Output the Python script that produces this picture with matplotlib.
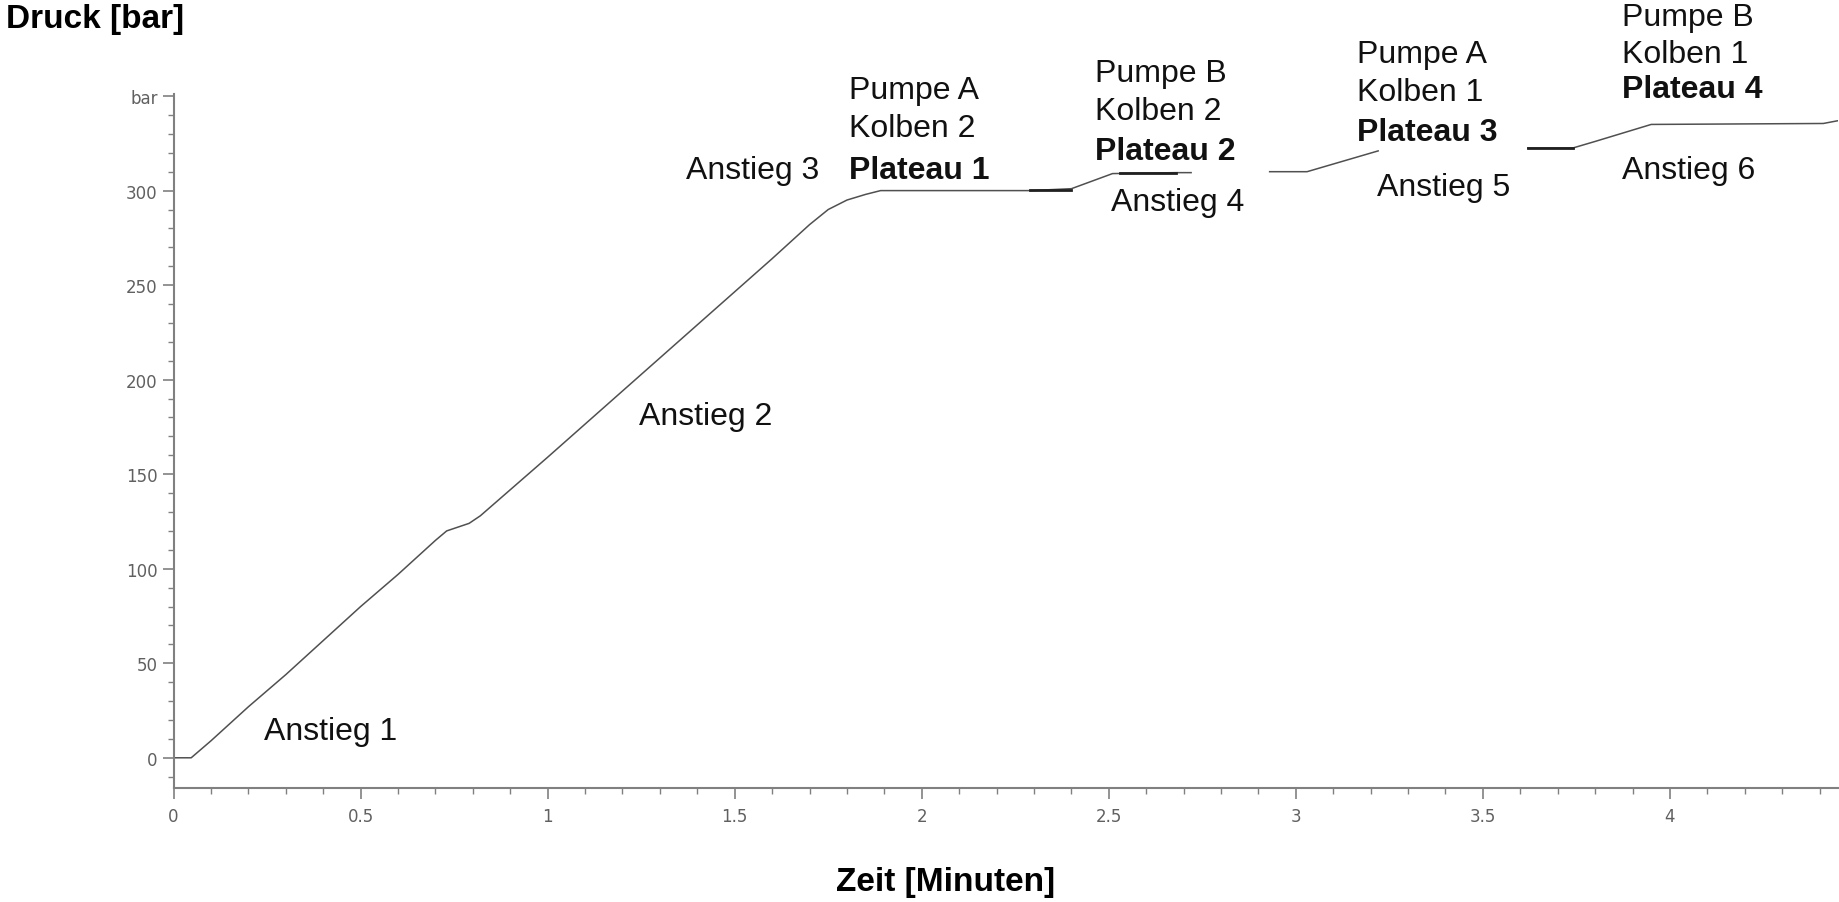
import numpy as np
import matplotlib.pyplot as plt
from matplotlib.ticker import MultipleLocator, FixedLocator

# pressure trace (minutes, bar); NaN = gap in the recording
zeit = [0, 0.047, 0.10, 0.20, 0.30, 0.40, 0.50, 0.60, 0.70, 0.73, 0.76, 0.79, 0.82,
        1.0, 1.2, 1.4, 1.6, 1.70, 1.75, 1.80, 1.85, 1.89, 2.29, 2.40, 2.51, 2.68, 2.72,
        np.nan, 2.93, 3.03, 3.22, np.nan, 3.62, 3.74, 3.80, 3.95, 4.41, 4.45]
druck = [0, 0, 9, 27, 44, 62, 80, 97, 115, 120, 122, 124, 128,
         159, 194, 229, 264, 282, 290, 295, 298, 300, 300, 301, 309, 309.5, 309.5,
         np.nan, 310, 310, 321, np.nan, 322.5, 322.5, 326, 335, 335.5, 337]

# darker plateau pieces
dunkel_zeit = [[2.29, 2.40], [2.53, 2.68], [3.62, 3.74]]
dunkel_druck = [[300.5, 300.5], [309.5, 309.5], [322.5, 322.5]]

# annotations: (x, y, text, bold)
labels = [
    (0.241, 14, "Anstieg 1", False),
    (1.245, 181, "Anstieg 2", False),
    (1.370, 311, "Anstieg 3", False),
    (1.806, 353, "Pumpe A", False),
    (1.806, 333, "Kolben 2", False),
    (1.806, 311, "Plateau 1", True),
    (2.464, 362, "Pumpe B", False),
    (2.464, 342, "Kolben 2", False),
    (2.464, 321, "Plateau 2", True),
    (2.505, 294, "Anstieg 4", False),
    (3.163, 372, "Pumpe A", False),
    (3.163, 352, "Kolben 1", False),
    (3.163, 331, "Plateau 3", True),
    (3.216, 302, "Anstieg 5", False),
    (3.871, 392, "Pumpe B", False),
    (3.871, 372, "Kolben 1", False),
    (3.871, 354, "Plateau 4", True),
    (3.871, 311, "Anstieg 6", False),
]

y_ticks = [0, 50, 100, 150, 200, 250, 300, 350]
y_ticklabels = ["0", "50", "100", "150", "200", "250", "300", "bar"]
x_ticks = [0, 0.5, 1, 1.5, 2, 2.5, 3, 3.5, 4]
x_ticklabels = ["0", "0.5", "1", "1.5", "2", "2.5", "3", "3.5", "4"]

plt.rcParams['font.family'] = ['Liberation Sans', 'DejaVu Sans']

fig = plt.figure(figsize=(18.39, 9.03), dpi=100)
ax = fig.add_axes([0.0944, 0.1262, 0.9052, 0.7684])

ax.plot(zeit, druck, color="#505050", lw=1.1)
for xs, ys in zip(dunkel_zeit, dunkel_druck):
    ax.plot(xs, ys, color="#202020", lw=2)

ax.set_xlim(0, 4.45)
ax.set_ylim(-16, 351)

for s in ["top", "right"]:
    ax.spines[s].set_visible(False)
for s in ["left", "bottom"]:
    ax.spines[s].set_color("#808080")
    ax.spines[s].set_linewidth(1.5)

ax.xaxis.set_major_locator(FixedLocator(x_ticks))
ax.set_xticklabels(x_ticklabels)
ax.xaxis.set_minor_locator(MultipleLocator(0.1))
ax.yaxis.set_major_locator(FixedLocator(y_ticks))
ax.set_yticklabels(y_ticklabels)
ax.yaxis.set_minor_locator(MultipleLocator(10))

ax.tick_params(which="major", length=8, width=1.2, color="#808080",
               labelsize=12, labelcolor="#606060")
ax.tick_params(which="minor", length=4, width=1.0, color="#808080")
for lab in ax.get_xticklabels() + ax.get_yticklabels():
    lab.set_family("DejaVu Sans")
ax.tick_params(axis="x", which="major", pad=6)

for x, y, txt, bold in labels:
    ax.text(x, y, txt, fontsize=23, ha="left", va="center",
            fontweight="bold" if bold else "normal", color="#111111")

fig.text(0.003, 0.978, "Druck [bar]", fontsize=24, fontweight="bold",
         ha="left", va="center")
fig.text(0.514, 0.023, "Zeit [Minuten]", fontsize=24, fontweight="bold",
         ha="center", va="center")

fig.savefig("out.png", dpi=100, facecolor="white")
